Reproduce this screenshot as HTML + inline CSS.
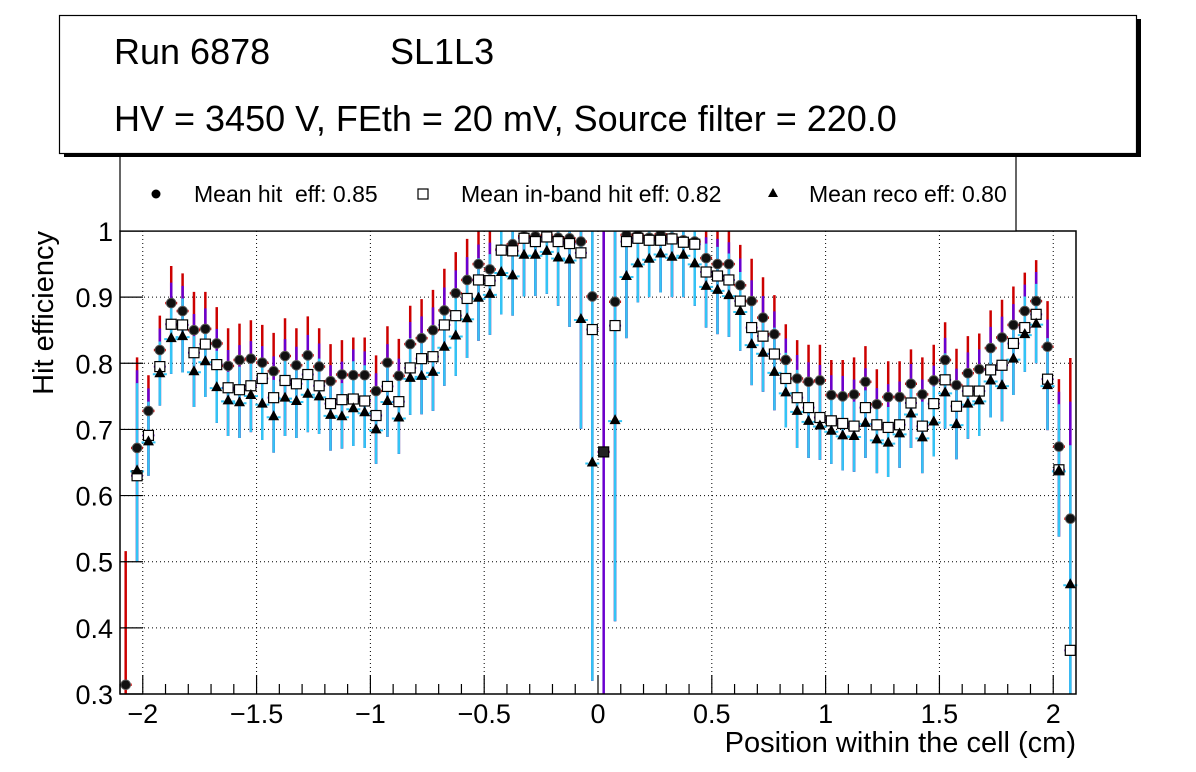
<!DOCTYPE html>
<html><head><meta charset="utf-8"><style>
html,body{margin:0;padding:0;background:#fff;}
svg{display:block;font-family:"Liberation Sans",Arial,sans-serif;}
.pre{white-space:pre;}
</style></head><body>
<svg id="chart" width="1196" height="772" viewBox="0 0 1196 772" xmlns="http://www.w3.org/2000/svg">
<rect x="0" y="0" width="1196" height="772" fill="#fff"/>
<g id="grid"></g>
<g id="marks"></g>
<rect x="120" y="231" width="956" height="463" fill="none" stroke="#000" stroke-width="1.5"/>
<g id="axes"></g>
<text x="1076" y="752" font-size="29" text-anchor="end">Position within the cell (cm)</text>
<text transform="translate(53,231) rotate(-90)" font-size="29" text-anchor="end">Hit efficiency</text>
<g>
<rect x="120" y="150" width="896" height="81" fill="#fff" stroke="#000" stroke-width="1.2"/>
<circle cx="156" cy="194" r="4.5" fill="#000"/>
<text x="194" y="202" font-size="23" class="pre" xml:space="preserve">Mean hit  eff: 0.85</text>
<rect x="418" y="189" width="10" height="10" fill="#fff" stroke="#000" stroke-width="1.2"/>
<text x="461" y="202" font-size="23">Mean in-band hit eff: 0.82</text>
<polygon points="773,188 778,197 768,197" fill="#000"/>
<text x="809" y="202" font-size="23">Mean reco eff: 0.80</text>
</g>
<g>
<rect x="64" y="19" width="1077" height="138" fill="#000"/>
<rect x="59.5" y="15.5" width="1077" height="138" fill="#fff" stroke="#000" stroke-width="1.2"/>
<text x="114" y="64" font-size="36">Run 6878</text>
<text x="390" y="64" font-size="36">SL1L3</text>
<text x="114" y="131" font-size="36">HV = 3450 V, FEth = 20 mV, Source filter = 220.0</text>
</g>
</svg>
<script>
const hitEff=[0.314,0.672,0.728,0.820,0.891,0.879,0.850,0.852,0.830,0.796,0.805,0.807,0.801,0.788,0.811,0.797,0.812,0.795,0.773,0.783,0.782,0.782,0.758,0.801,0.781,0.829,0.838,0.850,0.880,0.906,0.926,0.950,0.942,0.972,0.980,0.992,0.992,0.994,0.990,0.989,0.984,0.901,0.666,0.893,0.994,0.994,0.990,0.995,0.990,0.986,0.984,0.959,0.950,0.950,0.918,0.894,0.869,0.844,0.805,0.777,0.772,0.774,0.752,0.750,0.753,0.772,0.738,0.749,0.749,0.769,0.753,0.774,0.805,0.767,0.785,0.791,0.823,0.839,0.858,0.879,0.894,0.825,0.674,0.565];
const hitHi=[0.516,0.809,0.782,0.872,0.947,0.936,0.908,0.908,0.885,0.853,0.860,0.865,0.858,0.846,0.868,0.853,0.871,0.853,0.829,0.835,0.839,0.839,0.812,0.856,0.837,0.887,0.897,0.911,0.943,0.968,0.988,1,1,1,1,1,1,1,1,1,1,1,1,1,1,1,1,1,1,1,1,1,1,1,0.979,0.958,0.930,0.903,0.859,0.835,0.828,0.828,0.805,0.805,0.809,0.826,0.791,0.803,0.803,0.821,0.809,0.828,0.862,0.822,0.841,0.845,0.880,0.896,0.916,0.937,0.956,0.894,0.776,0.808];
const inbandEff=[null,0.630,0.691,0.795,0.859,0.858,0.816,0.829,0.798,0.763,0.760,0.766,0.777,0.748,0.774,0.769,0.783,0.766,0.739,0.745,0.746,0.743,0.721,0.765,0.742,0.793,0.807,0.810,0.858,0.872,0.898,0.926,0.925,0.971,0.970,0.989,0.984,0.991,0.984,0.981,0.967,0.851,0.666,0.857,0.984,0.989,0.986,0.986,0.988,0.983,0.980,0.938,0.932,0.926,0.894,0.854,0.841,0.814,0.777,0.748,0.733,0.718,0.713,0.709,0.705,0.733,0.707,0.703,0.707,0.740,0.705,0.739,0.775,0.735,0.758,0.758,0.790,0.797,0.830,0.854,0.874,0.776,0.639,0.366];
const recoEff=[null,0.638,0.682,0.785,0.838,0.841,0.788,0.803,0.764,0.744,0.741,0.752,0.739,0.720,0.748,0.743,0.754,0.750,0.722,0.720,0.732,0.726,0.700,0.743,0.718,0.778,0.781,0.787,0.825,0.842,0.868,0.899,0.905,0.938,0.933,0.964,0.964,0.970,0.960,0.957,0.867,0.650,0.666,0.714,0.932,0.951,0.958,0.966,0.961,0.964,0.951,0.917,0.911,0.903,0.879,0.829,0.816,0.787,0.756,0.728,0.713,0.706,0.698,0.691,0.690,0.710,0.685,0.680,0.694,0.724,0.688,0.712,0.756,0.708,0.739,0.744,0.774,0.767,0.807,0.844,0.860,0.767,0.638,0.466];
const recoHi=[null,0.770,0.742,0.833,0.897,0.898,0.841,0.858,0.819,0.787,0.795,0.802,0.794,0.775,0.805,0.797,0.815,0.807,0.765,0.770,0.803,0.797,0.758,0.802,0.777,0.838,0.845,0.858,0.886,0.913,0.933,0.959,0.965,1,1,1,1,1,1,1,1,1,0.67,1,1,1,1,1,1,1,1,0.981,0.976,0.966,0.938,0.893,0.873,0.854,0.816,0.790,0.775,0.767,0.759,0.757,0.742,0.759,0.734,0.734,0.742,0.777,0.742,0.765,0.815,0.762,0.792,0.797,0.830,0.845,0.863,0.901,0.920,0.838,0.738,0.676];
const recoLo=[null,0.500,0.630,0.736,0.784,0.786,0.734,0.749,0.710,0.690,0.687,0.696,0.684,0.665,0.690,0.687,0.696,0.693,0.668,0.671,0.675,0.672,0.648,0.689,0.663,0.722,0.723,0.728,0.766,0.781,0.808,0.834,0.843,0.874,0.872,0.901,0.902,0.905,0.887,0.855,0.701,0.32,0.66,0.41,0.838,0.892,0.900,0.907,0.900,0.900,0.887,0.854,0.844,0.840,0.819,0.767,0.757,0.729,0.703,0.672,0.657,0.654,0.648,0.638,0.636,0.657,0.634,0.628,0.642,0.672,0.634,0.659,0.701,0.655,0.686,0.690,0.718,0.712,0.752,0.787,0.800,0.699,0.538,0.3];
const xTicks=[-2,-1.5,-1,-0.5,0,0.5,1,1.5,2];
const xTickLabels=["\u22122","\u22121.5","\u22121","\u22120.5","0","0.5","1","1.5","2"];
const yTicks=[0.3,0.4,0.5,0.6,0.7,0.8,0.9,1];
const yTickLabels=["0.3","0.4","0.5","0.6","0.7","0.8","0.9","1"];

const X0=120,X1=1076,Y0=694,Y1=231,XMIN=-2.1,XMAX=2.1,YMIN=0.3,YMAX=1.0;
function sx(v){return X0+(v-XMIN)/(XMAX-XMIN)*(X1-X0);}
function sy(v){v=Math.max(YMIN,Math.min(YMAX,v));return Y0-(v-YMIN)/(YMAX-YMIN)*(Y0-Y1);}
function binX(i){return -2.075+0.05*i;}
const NS="http://www.w3.org/2000/svg";
function mk(tag,attrs,parent){const e=document.createElementNS(NS,tag);for(const k in attrs)e.setAttribute(k,attrs[k]);parent.appendChild(e);return e;}
const grid=document.getElementById('grid'),axes=document.getElementById('axes'),marks=document.getElementById('marks');

xTicks.forEach((t,i)=>{
  const x=sx(t);
  const g=mk('line',{x1:x,x2:x,y1:Y1,y2:Y0,stroke:'#000','stroke-width':1,'stroke-dasharray':'1,3'},grid);
  
  
  const tk=mk('line',{x1:x,x2:x,y1:Y0,y2:Y0-19,stroke:'#000','stroke-width':1.2},axes);
  
  
  const lb=mk('text',{x:x,y:723,'font-size':27,'text-anchor':'middle'},axes);
  lb.textContent=xTickLabels[i];
  
  
});
for(let v=-2.1;v<=2.1;v+=0.1){
  const r=Math.round(v*10)/10;
  if(Math.abs(r*2-Math.round(r*2))<1e-6)continue;
  const x=sx(r);
  const tk=mk('line',{x1:x,x2:x,y1:Y0,y2:Y0-10,stroke:'#000','stroke-width':1.2},axes);
  
  
}
yTicks.forEach((t,i)=>{
  const y=sy(t);
  const g=mk('line',{x1:X0,x2:X1,y1:y,y2:y,stroke:'#000','stroke-width':1,'stroke-dasharray':'1,3'},grid);
  
  
  const tk=mk('line',{x1:X0,x2:X0+23,y1:y,y2:y,stroke:'#000','stroke-width':1.2},axes);
  
  
  const lb=mk('text',{x:113,y:y+10,'font-size':27,'text-anchor':'end'},axes);
  lb.textContent=yTickLabels[i];
  
  
});

for(let i=0;i<hitEff.length;i++){
  const x=sx(binX(i));
  const lo=recoLo[i]!=null?recoLo[i]:YMIN;
  const rb=mk('line',{x1:x,x2:x,y1:sy(hitHi[i]),y2:sy(lo),stroke:'#cc0000','stroke-width':2.5},marks);
  
  
  const rh=mk('line',{x1:x-6,x2:x+6,y1:sy(hitEff[i]),y2:sy(hitEff[i]),stroke:'#cc0000','stroke-width':2.5},marks);
  
  
  if(inbandEff[i]!=null){
    let top=(hitHi[i]+recoHi[i])/2;
    let bot=recoLo[i];
    if(i===42){top=1;bot=YMIN;}
    const pb=mk('line',{x1:x,x2:x,y1:sy(top),y2:sy(bot),stroke:'#6a00d0','stroke-width':2.5},marks);
    
    
    const ph=mk('line',{x1:x-6,x2:x+6,y1:sy(inbandEff[i]),y2:sy(inbandEff[i]),stroke:'#6a00d0','stroke-width':2,'stroke-dasharray':'2,8'},marks);
    
    
  }
  if(recoEff[i]!=null&&i!==42){
    const cb=mk('line',{x1:x,x2:x,y1:sy(recoHi[i]),y2:sy(recoLo[i]),stroke:'#33c4f5','stroke-width':2.5},marks);
    
    
    const ch=mk('line',{x1:x-7,x2:x+7,y1:sy(recoEff[i])+1,y2:sy(recoEff[i])+1,stroke:'#33c4f5','stroke-width':2,'stroke-dasharray':'3,8'},marks);
    
    
  }
}
for(let i=0;i<hitEff.length;i++){
  const x=sx(binX(i));
  const c=mk('circle',{cx:x,cy:sy(hitEff[i]),r:4.8,fill:'#111',stroke:'#555','stroke-width':1},marks);
  
  
  if(inbandEff[i]!=null){
    const y=sy(inbandEff[i]);
    const s=mk('rect',{x:x-5,y:y-5,width:10,height:10,fill:i===42?'#222':'#fff',stroke:'#000','stroke-width':1.2},marks);
    
    
  }
  if(recoEff[i]!=null&&i!==42){
    const y=sy(recoEff[i]);
    const t=mk('polygon',{points:`${x},${y-6} ${x+5.5},${y+4} ${x-5.5},${y+4}`,fill:'#000'},marks);
    
    
  }
}
</script>
</body></html>
